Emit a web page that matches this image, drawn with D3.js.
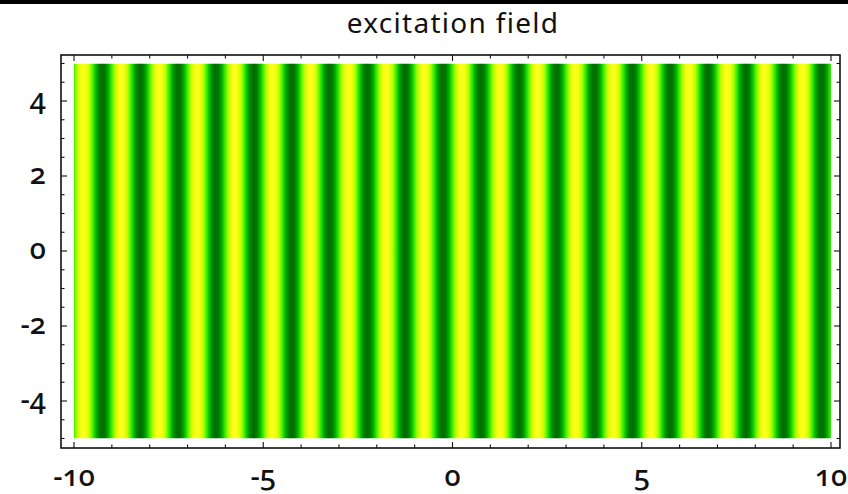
<!DOCTYPE html>
<html>
<head>
<meta charset="utf-8">
<script src="https://cdn.jsdelivr.net/npm/d3@7"></script>
<style>
  body { margin: 0; background: #fff; overflow: hidden; }
  svg { display: block; }
  text { font-family: "Noto Sans", sans-serif; font-variant-numeric: oldstyle-nums; fill: #111; }
</style>
</head>
<body>
<div id="chart"></div>
<script>
// x positions of the yellow crests (one per period)
const crestX = [-9.75, -8.75, -7.75, -6.75, -5.75, -4.75, -3.75, -2.75, -1.75, -0.75,
                0.25, 1.25, 2.25, 3.25, 4.25, 5.25, 6.25, 7.25, 8.25, 9.25, 10.25];
// field level across one period (trough -> crest -> trough)
const profileT = [0, 1/12, 2/12, 3/12, 4/12, 5/12, 6/12, 7/12, 8/12, 9/12, 10/12, 11/12, 1];
const profileLevel = [-1, -0.87, -0.5, 0, 0.5, 0.87, 1, 0.87, 0.5, 0, -0.5, -0.87, -1];
// colour map: level -> colour
const colorLevels = [-1, -0.6, -0.2, 0.2, 0.6, 1];
const colorValues = ["#006a00", "#00a200", "#12e000", "#62ff00", "#d2ff00", "#ffff1a"];
const xTicks = [-10, -5, 0, 5, 10];
const yTicks = [-4, -2, 0, 2, 4];

const width = 848, height = 494;

const x = d3.scaleLinear().domain([-10, 10]).range([74, 831]);
const y = d3.scaleLinear().domain([-5, 5]).range([438.5, 63.5]);
const color = d3.scaleLinear().domain(colorLevels).range(colorValues);

const svg = d3.select("#chart").append("svg")
  .attr("width", width)
  .attr("height", height);

// black strip at the very top
svg.append("rect").attr("x", 0).attr("y", 0).attr("width", width).attr("height", 4).attr("fill", "#000");

const defs = svg.append("defs");
const grad = defs.append("linearGradient")
  .attr("id", "period")
  .attr("x1", "0%").attr("x2", "100%").attr("y1", "0%").attr("y2", "0%");
grad.selectAll("stop")
  .data(profileT)
  .join("stop")
  .attr("offset", d => d * 100 + "%")
  .attr("stop-color", (d, i) => color(profileLevel[i]));

defs.append("clipPath").attr("id", "plotClip")
  .append("rect")
  .attr("x", x(-10)).attr("y", y(5))
  .attr("width", x(10) - x(-10)).attr("height", y(-5) - y(5));

const field = svg.append("g").attr("clip-path", "url(#plotClip)");
field.selectAll("rect")
  .data(crestX)
  .join("rect")
  .attr("x", d => x(d - 0.5) - 0.3)
  .attr("y", y(5))
  .attr("width", d => x(d + 0.5) - x(d - 0.5) + 0.6)
  .attr("height", y(-5) - y(5))
  .attr("fill", "url(#period)");

// frame
const fx0 = 61, fx1 = 840, fy0 = 55, fy1 = 448;
svg.append("rect")
  .attr("x", fx0).attr("y", fy0)
  .attr("width", fx1 - fx0).attr("height", fy1 - fy0)
  .attr("fill", "none").attr("stroke", "#111").attr("stroke-width", 1.6);

// ticks on all four sides, pointing inward
const xMinor = d3.range(-10, 11, 1);
const yMinor = d3.range(-5, 5.01, 0.5);
const ticks = svg.append("g").attr("stroke", "#111").attr("stroke-width", 1.1);
xMinor.forEach(v => {
  const len = v % 5 === 0 ? 6 : 3.5;
  ticks.append("line").attr("x1", x(v)).attr("x2", x(v)).attr("y1", fy1).attr("y2", fy1 - len);
  ticks.append("line").attr("x1", x(v)).attr("x2", x(v)).attr("y1", fy0).attr("y2", fy0 + len);
});
yMinor.forEach(v => {
  const len = v % 2 === 0 ? 6 : 3.5;
  ticks.append("line").attr("y1", y(v)).attr("y2", y(v)).attr("x1", fx0).attr("x2", fx0 + len);
  ticks.append("line").attr("y1", y(v)).attr("y2", y(v)).attr("x1", fx1).attr("x2", fx1 - len);
});

// tick labels
svg.append("g").selectAll("text")
  .data(xTicks)
  .join("text")
  .attr("x", d => x(d))
  .attr("y", 486)
  .attr("text-anchor", "middle")
  .attr("font-size", 29)
  .attr("font-weight", 500)
  .text(d => d < 0 ? "-" + Math.abs(d) : d);

svg.append("g").selectAll("text")
  .data(yTicks)
  .join("text")
  .attr("x", 46)
  .attr("y", d => y(d) + 8)
  .attr("text-anchor", "end")
  .attr("font-size", 29)
  .attr("font-weight", 500)
  .text(d => d < 0 ? "-" + Math.abs(d) : d);

// title
svg.append("text")
  .attr("x", 453)
  .attr("y", 33)
  .attr("text-anchor", "middle")
  .attr("font-size", 28)
  .attr("letter-spacing", 1.3)
  .text("excitation field");
</script>
</body>
</html>
